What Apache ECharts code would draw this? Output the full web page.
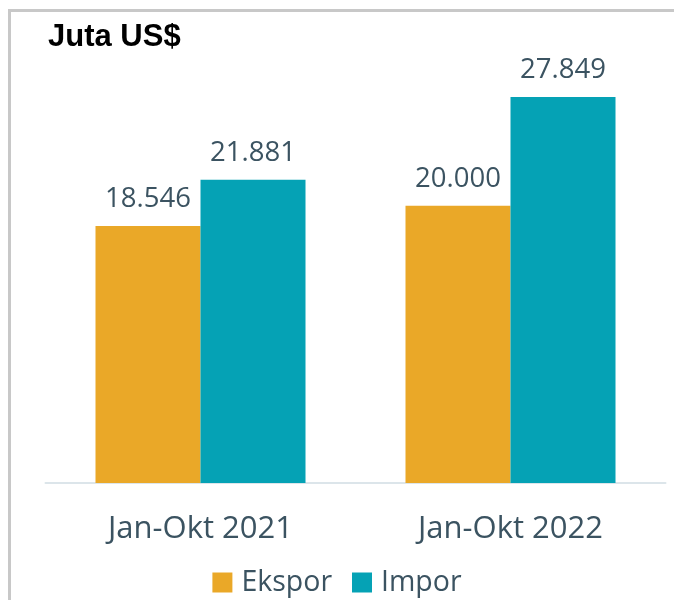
<!DOCTYPE html>
<html><head><meta charset="utf-8">
<script src="https://cdn.jsdelivr.net/npm/echarts@6/dist/echarts.min.js"></script>
<style>html,body{margin:0;padding:0;background:#fff}#c{width:674px;height:600px}</style>
</head><body><div id="c"></div>
<script>
const categories = ['Jan-Okt 2021', 'Jan-Okt 2022'];
const ekspor = [18546, 20000];
const impor = [21881, 27849];
const seriesNames = ['Ekspor', 'Impor'];
const unitTitle = 'Juta US$';

const fmt = v => v.toLocaleString('de-DE');
const txt = '#3B5361';
const font = '"Open Sans", "Noto Sans", sans-serif';
const chart = echarts.init(document.getElementById('c'));
chart.setOption({
  animation: false,
  title: { text: unitTitle, left: 43, top: 17, textStyle: { fontFamily: '"Liberation Sans", Arial, sans-serif', fontWeight: 'bold', fontSize: 31, color: '#000' } },
  graphic: [
    { type: 'rect', shape: { x: 8, y: 9, width: 666, height: 3 }, style: { fill: '#C8C8C8' } },
    { type: 'rect', shape: { x: 8, y: 9, width: 3, height: 591 }, style: { fill: '#C8C8C8' } }
  ],
  legend: { data: seriesNames, left: 'center', top: 563, itemWidth: 20, itemHeight: 20, itemGap: 20,
    textStyle: { fontFamily: font, fontSize: 28.5, color: txt, padding: [0, 0, 0, 4] }, icon: 'rect' },
  grid: { left: 45.5, right: 8.5, top: 97, bottom: 117, containLabel: false },
  xAxis: { type: 'category', data: categories,
    axisLine: { lineStyle: { color: '#DCE5EA', width: 2 } }, axisTick: { show: false },
    axisLabel: { fontFamily: font, fontSize: 31, color: txt, margin: 31 } },
  yAxis: { type: 'value', min: 0, max: 27849, show: false, splitLine: { show: false } },
  series: [
    { name: seriesNames[0], type: 'bar', data: ekspor, barWidth: 105, barGap: '0%', barCategoryGap: '32%',
      itemStyle: { color: '#EAA828' },
      label: { show: true, position: 'top', distance: 13, formatter: p => fmt(p.value), fontFamily: font, fontSize: 27.5, color: txt } },
    { name: seriesNames[1], type: 'bar', data: impor, barWidth: 105, barGap: '0%',
      itemStyle: { color: '#05A2B5' },
      label: { show: true, position: 'top', distance: 13, formatter: p => fmt(p.value), fontFamily: font, fontSize: 27.5, color: txt } }
  ]
});
</script></body></html>
